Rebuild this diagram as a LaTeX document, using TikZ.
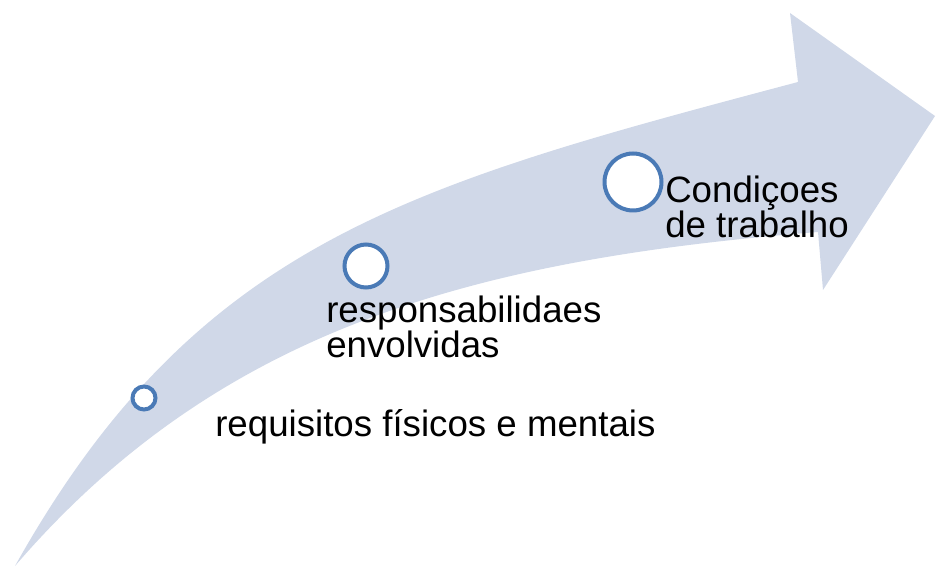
\documentclass[tikz,border=0pt]{standalone}
\usepackage{fontspec}
\setmainfont{Liberation Sans}
\definecolor{arrowfill}{HTML}{D0D8E8}
\definecolor{ringblue}{HTML}{4A7AB6}
\begin{document}
\begin{tikzpicture}[x=0.75pt,y=-0.75pt,
  ring/.style={circle,draw=ringblue,fill=white,line width=3pt,inner sep=0pt},
  label/.style={anchor=base west,inner sep=0pt,align=left,font=\fontsize{27.5}{26.25}\selectfont}]
\path[use as bounding box] (0,0) rectangle (936,566);
\fill[arrowfill] (15,566) .. controls (197,241) and (410,185) .. (798,82)
  -- (790,13) -- (935,116) -- (823,290) -- (818,232)
  .. controls (473,259.5) and (219,329) .. (15,566) -- cycle;
\node[ring,minimum size=17.25pt] (c1) at (144,398) {};
\node[ring,minimum size=32.25pt] (c2) at (366,266) {};
\node[ring,minimum size=42.75pt] (c3) at (633,182) {};
\node[label] (t1) at (215,437) {requisitos físicos e mentais};
\node[label] (t2) at (326,358) {responsabilidaes\\envolvidas};
\node[label] (t3) at (665,238) {Condiçoes\\de trabalho};
\end{tikzpicture}
\end{document}
